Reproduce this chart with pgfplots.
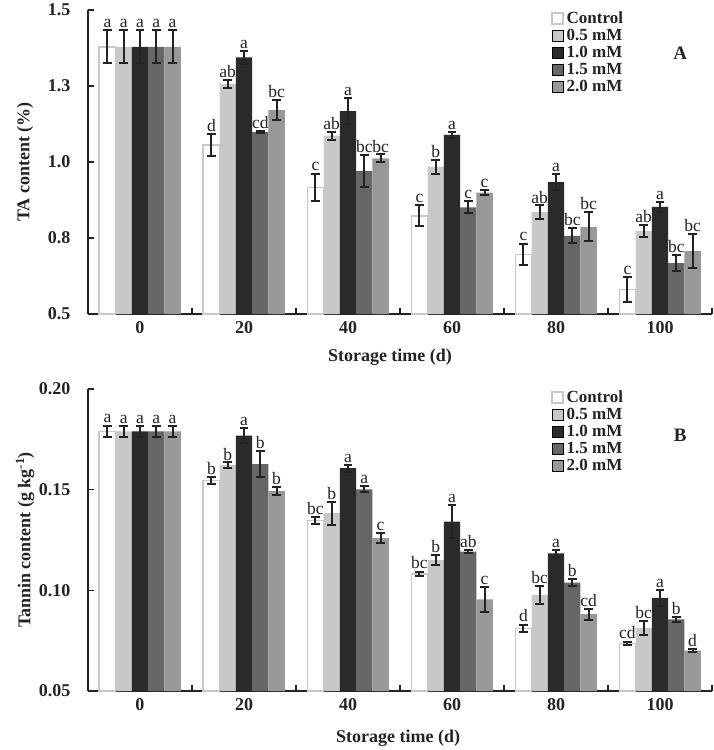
\documentclass[border=0pt]{standalone}
\usepackage{fontspec}
\setmainfont{Liberation Serif}
\usepackage{pgfplots}
\usepackage{pgfplotstable}
\pgfplotsset{compat=1.18}
\definecolor{cCe}{RGB}{200,200,200}
\definecolor{c05}{RGB}{200,200,200}
\definecolor{c10}{RGB}{42,42,42}
\definecolor{c15}{RGB}{102,102,102}
\definecolor{c20}{RGB}{152,152,152}
\definecolor{axc}{RGB}{35,35,35}

\pgfplotstableread{
x y0 e0 l0 y1 e1 l1 y2 e2 l2 y3 e3 l3 y4 e4 l4
0 1.379 0.054 a 1.379 0.054 a 1.379 0.054 a 1.379 0.054 a 1.379 0.054 a
1 1.056 0.036 d 1.257 0.013 ab 1.344 0.020 a 1.098 0.003 cd 1.171 0.033 bc
2 0.916 0.045 c 1.087 0.013 ab 1.167 0.043 a 0.970 0.052 bc 1.012 0.013 bc
3 0.823 0.035 c 0.985 0.023 b 1.089 0.011 a 0.851 0.020 c 0.899 0.008 c
4 0.696 0.035 c 0.835 0.022 ab 0.934 0.026 a 0.757 0.025 bc 0.787 0.048 bc
5 0.581 0.040 c 0.773 0.021 ab 0.852 0.018 a 0.667 0.026 bc 0.707 0.055 bc
}\tA

\pgfplotstableread{
x y0 e0 l0 y1 e1 l1 y2 e2 l2 y3 e3 l3 y4 e4 l4
0 0.1790 0.0027 a 0.1790 0.0027 a 0.1790 0.0027 a 0.1790 0.0027 a 0.1790 0.0027 a
1 0.1545 0.0017 b 0.1622 0.0013 b 0.1768 0.0038 a 0.1627 0.0064 b 0.1494 0.0018 b
2 0.1346 0.0016 bc 0.1383 0.0056 b 0.1607 0.0018 a 0.1502 0.0016 a 0.1259 0.0025 c
3 0.1081 0.0012 bc 0.1151 0.0025 b 0.1341 0.0083 a 0.1192 0.0008 ab 0.0955 0.0062 c
4 0.0811 0.0019 d 0.0977 0.0047 bc 0.1184 0.0017 a 0.1038 0.0017 b 0.0882 0.0027 cd
5 0.0736 0.0008 cd 0.0814 0.0036 bc 0.0963 0.0041 a 0.0856 0.0014 b 0.0700 0.0008 d
}\tB

\pgfplotsset{
  sq/.style={legend image code/.code={\draw[##1] (0pt,-5.5pt) rectangle (11pt,5.5pt);}},
  dep/.style={visualization depends on={\thisrow{e#1}\as\err}},
  eb/.style={error bars/error bar style={line width=2pt, draw=axc, solid},
    error bars/error mark options={rotate=90, mark size=4.3pt, line width=2pt, draw=axc}},
  panel/.style={
    width=624pt, scale only axis,
    xmin=-0.5, xmax=5.5,
    ybar=0pt, bar width=16.3pt,
    axis x line*=bottom, axis y line*=left,
    axis line style={line width=2pt, axc, -},
    xtick={0,...,5}, xticklabels={0,20,40,60,80,100},
    major x tick style={draw=none},
    minor xtick={0.5,1.5,2.5,3.5,4.5,5.5},
    minor x tick style={line width=1.5pt, axc},
    y tick style={line width=1.5pt, axc},
    tick align=inside, major tick length=6pt, minor tick length=6pt,
    tick label style={font=\bfseries\fontsize{18}{18}\selectfont, text=axc},
    yticklabel style={xshift=-14pt},
    xticklabel style={yshift=-4pt},
    every axis y label/.style={at={(axis description cs:-0.101,0.5)}, rotate=90, anchor=center,
      font=\bfseries\fontsize{18}{18}\selectfont, text=axc},
    point meta=explicit symbolic,
    nodes near coords,
    nodes near coords style={font=\fontsize{17.5}{17.5}\selectfont, text=axc, anchor=south, inner sep=1pt},
    error bars/y dir=both, error bars/y explicit,
    legend style={at={(rel axis cs:0.742,1.0)}, anchor=north west, draw=none, fill=none,
      font=\bfseries\fontsize{17}{17}\selectfont, text=axc, row sep=1.3pt, inner sep=0pt,
      nodes={inner sep=1.5pt},
      /tikz/every odd column/.append style={column sep=1.5pt}},
    legend cell align=left,
  },
  sC/.style={fill=white, draw=cCe, line width=1.5pt, sq, eb},
  s05/.style={fill=c05, draw=none, sq, eb},
  s10/.style={fill=c10, draw=none, sq, eb},
  s15/.style={fill=c15, draw=none, sq, eb},
  s20/.style={fill=c20, draw=none, sq, eb},
}

\begin{document}
\begin{tikzpicture}
\path[use as bounding box] (-88pt,-436pt) rectangle (626pt,314pt);
% Panel A
\begin{axis}[panel, height=304pt,
  ymin=0.5, ymax=1.5,
  ytick={0.5,0.75,1,1.25,1.5}, yticklabels={0.5,0.8,1.0,1.3,1.5},
  ylabel={TA content (\%)},
  xlabel={Storage time (d)},
  every axis x label/.style={at={(axis description cs:0.484,-0.141)}, anchor=center,
    font=\bfseries\fontsize{18}{18}\selectfont, text=axc},
  nodes near coords style={yshift=\err*304+1},
]
\addplot[sC, dep=0] table[x=x, y=y0, y error=e0, meta=l0] {\tA};
\addplot[s05, dep=1] table[x=x, y=y1, y error=e1, meta=l1] {\tA};
\addplot[s10, dep=2] table[x=x, y=y2, y error=e2, meta=l2] {\tA};
\addplot[s15, dep=3] table[x=x, y=y3, y error=e3, meta=l3] {\tA};
\addplot[s20, dep=4] table[x=x, y=y4, y error=e4, meta=l4] {\tA};
\legend{Control,0.5 mM,1.0 mM,1.5 mM,2.0 mM}
\node[font=\bfseries\fontsize{19}{19}\selectfont, text=axc] at (rel axis cs:0.949,0.859) {A};
\end{axis}
% Panel B
\begin{axis}[panel, height=302pt, at={(0pt,-377pt)}, anchor=south west,
  ymin=0.05, ymax=0.20,
  ytick={0.05,0.10,0.15,0.20}, yticklabels={0.05,0.10,0.15,0.20},
  ylabel={Tannin content (g kg\textsuperscript{-1})},
  xlabel={Storage time (d)},
  every axis x label/.style={at={(axis description cs:0.497,-0.156)}, anchor=center,
    font=\bfseries\fontsize{18}{18}\selectfont, text=axc},
  nodes near coords style={yshift=\err*2013+1},
]
\addplot[sC, dep=0] table[x=x, y=y0, y error=e0, meta=l0] {\tB};
\addplot[s05, dep=1] table[x=x, y=y1, y error=e1, meta=l1] {\tB};
\addplot[s10, dep=2] table[x=x, y=y2, y error=e2, meta=l2] {\tB};
\addplot[s15, dep=3] table[x=x, y=y3, y error=e3, meta=l3] {\tB};
\addplot[s20, dep=4] table[x=x, y=y4, y error=e4, meta=l4] {\tB};
\legend{Control,0.5 mM,1.0 mM,1.5 mM,2.0 mM}
\node[font=\bfseries\fontsize{19}{19}\selectfont, text=axc] at (rel axis cs:0.949,0.848) {B};
\end{axis}
\end{tikzpicture}
\end{document}
